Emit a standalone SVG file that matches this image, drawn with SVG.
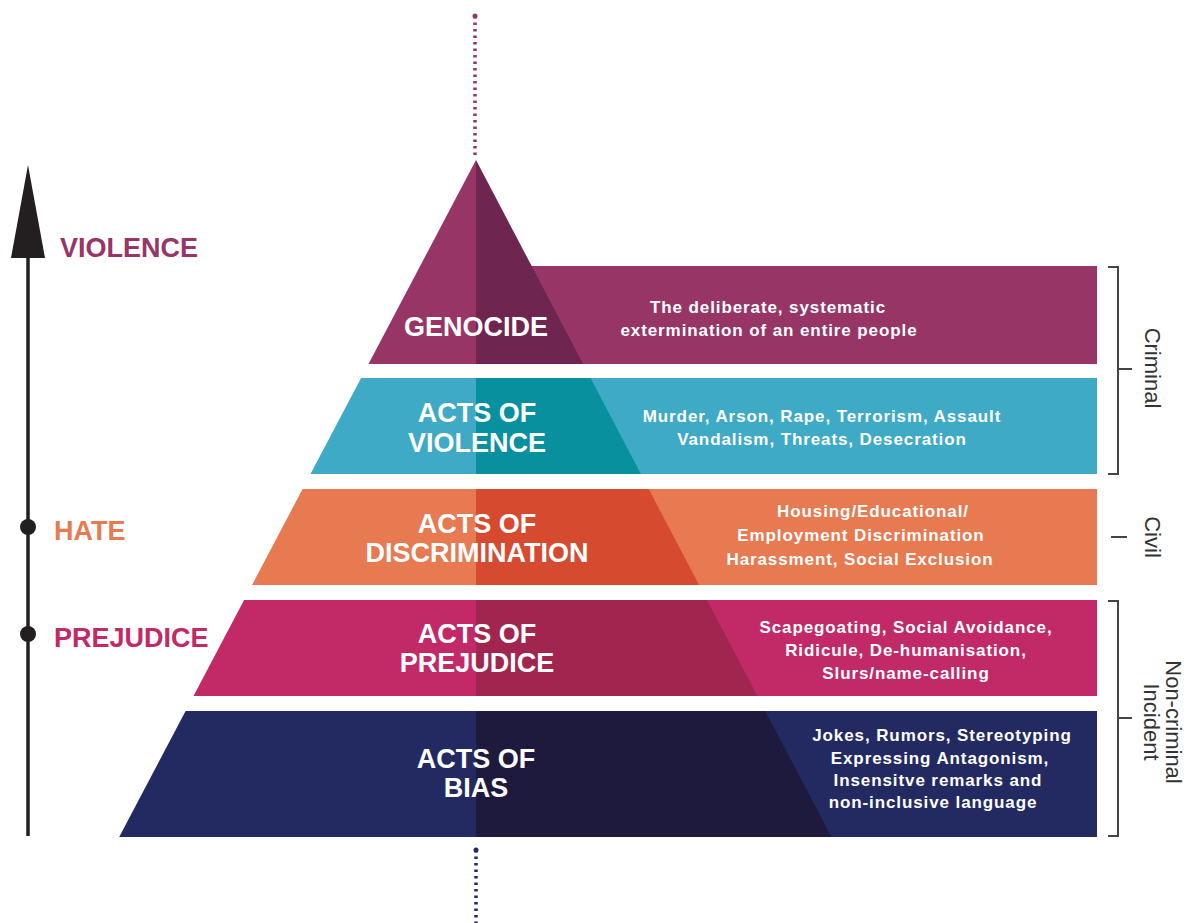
<svg xmlns="http://www.w3.org/2000/svg" width="1192" height="923" viewBox="0 0 1192 923">
<style>
.h{font-family:"Liberation Sans",Arial,sans-serif;font-weight:700;font-size:27px;fill:#fff;text-anchor:middle}
.d{font-family:"Liberation Sans",Arial,sans-serif;font-weight:700;font-size:17px;fill:#fff;text-anchor:middle;letter-spacing:0.9px}
.lv{font-family:"Liberation Sans",Arial,sans-serif;font-weight:700;font-size:27px}
.side{font-family:"Liberation Sans",Arial,sans-serif;font-size:22px;fill:#333;text-anchor:middle}
.br{fill:none;stroke:#444;stroke-width:2}
</style>
<rect width="1192" height="923" fill="#fff"/>
<g id="connectors">
<line x1="475" y1="16" x2="475" y2="156" stroke="#983567" stroke-width="3.5" stroke-dasharray="2.5 4" />
<circle cx="475" cy="16" r="2.5" fill="#983567"/>
<line x1="476" y1="850" x2="476" y2="923" stroke="#232a62" stroke-width="3.5" stroke-dasharray="2.5 4" />
<circle cx="476" cy="850" r="2.5" fill="#232a62"/>
</g>
<g id="axis">
<line x1="28" y1="250" x2="28" y2="836" stroke="#231f20" stroke-width="3.5"/>
<polygon points="28,165 45,258 11,258" fill="#231f20"/>
<circle cx="28" cy="527" r="8" fill="#231f20"/>
<circle cx="28" cy="634" r="8" fill="#231f20"/>
<text class="lv" x="60" y="257" fill="#983567">VIOLENCE</text>
<text class="lv" x="54" y="540" fill="#e77a50">HATE</text>
<text class="lv" x="54" y="647" fill="#c12a67">PREJUDICE</text>
</g>
<g id="genocide">
<rect x="530" y="266" width="567" height="98" fill="#983567"/>
<polygon points="476,160 368.5,364 476,364" fill="#983567"/>
<polygon points="476,160 583.1,364 476,364" fill="#6e2650"/>
<text class="h" x="476" y="336">GENOCIDE</text>
<text class="d" x="768" y="313">The deliberate, systematic</text>
<text class="d" x="769" y="336">extermination of an entire people</text>
</g>
<g id="violence">
<polygon points="361.1,378 1097,378 1097,474 310.5,474" fill="#3eaac6"/>
<polygon points="476,378 590.5,378 640.9,474 476,474" fill="#08909f"/>
<text class="h" x="477" y="422">ACTS OF</text>
<text class="h" x="477" y="452">VIOLENCE</text>
<text class="d" x="822" y="422">Murder, Arson, Rape, Terrorism, Assault</text>
<text class="d" x="822" y="445">Vandalism, Threats, Desecration</text>
</g>
<g id="discrimination">
<polygon points="302.6,489 1097,489 1097,585 252,585" fill="#e77a50"/>
<polygon points="476,489 648.7,489 699.1,585 476,585" fill="#d64b30"/>
<text class="h" x="477" y="533">ACTS OF</text>
<text class="h" x="477" y="562">DISCRIMINATION</text>
<text class="d" x="873" y="517">Housing/Educational/</text>
<text class="d" x="861" y="541">Employment Discrimination</text>
<text class="d" x="860" y="565">Harassment, Social Exclusion</text>
</g>
<g id="prejudice">
<polygon points="244.1,600 1097,600 1097,696 193.5,696" fill="#c12a67"/>
<polygon points="476,600 707,600 757.4,696 476,696" fill="#a02650"/>
<text class="h" x="477" y="643">ACTS OF</text>
<text class="h" x="477" y="672">PREJUDICE</text>
<text class="d" x="906" y="633">Scapegoating, Social Avoidance,</text>
<text class="d" x="906" y="656">Ridicule, De-humanisation,</text>
<text class="d" x="906" y="679">Slurs/name-calling</text>
</g>
<g id="bias">
<polygon points="185.6,711 1097,711 1097,837 119.2,837" fill="#232a62"/>
<polygon points="476,711 765.3,711 831.4,837 476,837" fill="#1e1a3e"/>
<text class="h" x="476" y="768">ACTS OF</text>
<text class="h" x="476" y="797">BIAS</text>
<text class="d" x="942" y="741">Jokes, Rumors, Stereotyping</text>
<text class="d" x="940" y="764">Expressing Antagonism,</text>
<text class="d" x="938" y="786">Insensitve remarks and</text>
<text class="d" x="933" y="808">non-inclusive language</text>
</g>
<g id="criminal">
<polyline class="br" points="1108,267 1118,267 1118,474 1108,474"/>
<line class="br" x1="1118" y1="369" x2="1132" y2="369"/>
<text class="side" transform="translate(1145,368) rotate(90)">Criminal</text>
</g>
<g id="civil">
<line class="br" x1="1111" y1="537" x2="1127" y2="537"/>
<text class="side" transform="translate(1145,537) rotate(90)">Civil</text>
</g>
<g id="noncriminal">
<polyline class="br" points="1108,601 1118,601 1118,836 1108,836"/>
<line class="br" x1="1118" y1="718" x2="1132" y2="718"/>
<text class="side" transform="translate(1166,722) rotate(90)">Non-criminal</text>
<text class="side" transform="translate(1144,722) rotate(90)">Incident</text>
</g>
</svg>
